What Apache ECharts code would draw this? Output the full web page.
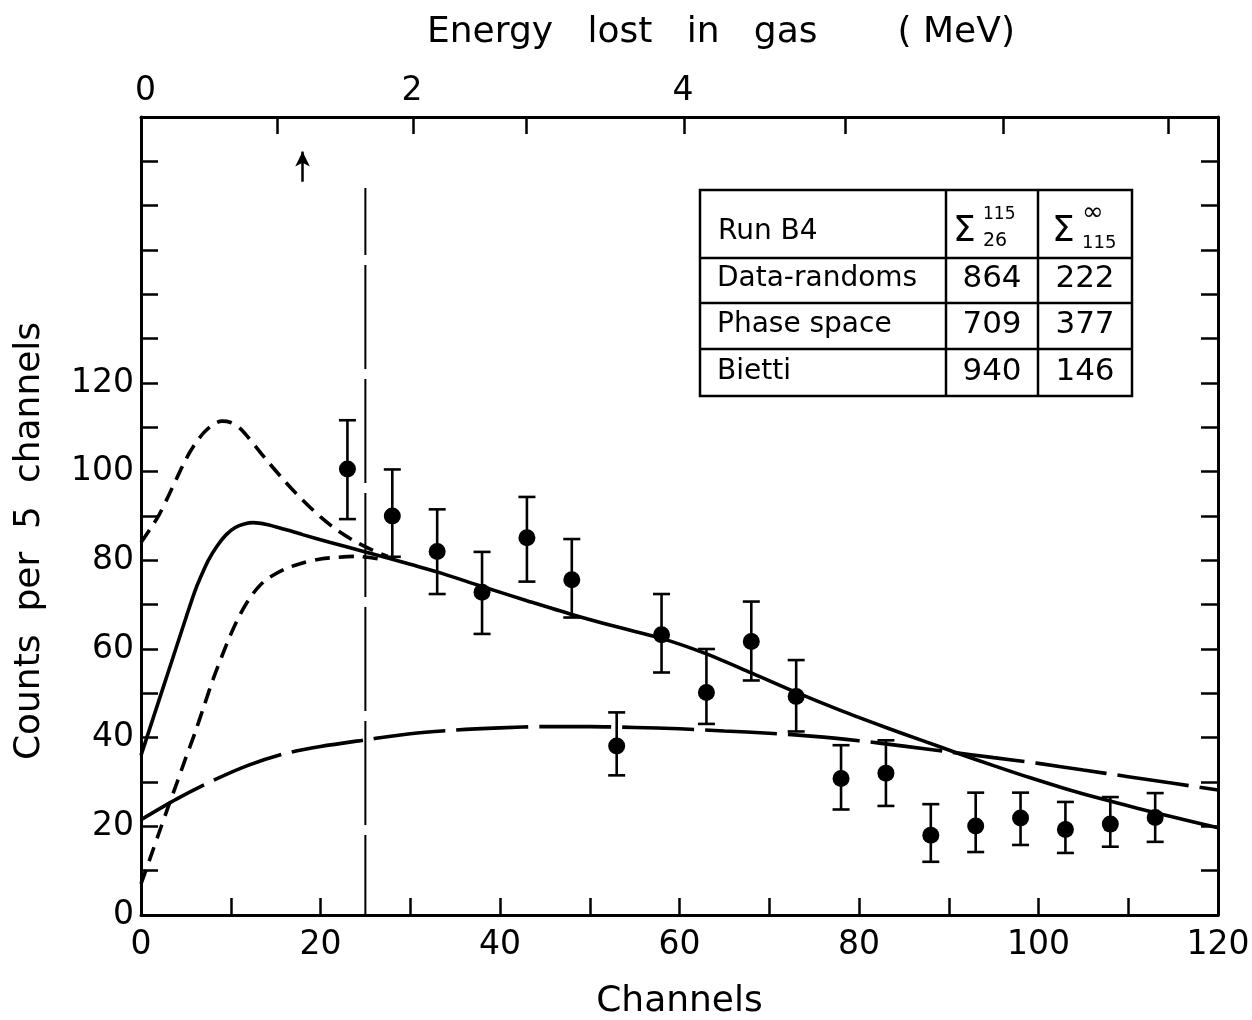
<!DOCTYPE html>
<html>
<head>
<meta charset="utf-8">
<script src="https://cdn.jsdelivr.net/npm/echarts@6/dist/echarts.min.js"></script>
<style>
  html, body { margin: 0; padding: 0; background: #fff; }
  #chart { width: 1252px; height: 1020px; }
</style>
</head>
<body>
<div id="chart"></div>
<script>
// ---------------- data ----------------
const channels = [23, 28, 33, 38, 43, 48, 53, 58, 63, 68, 73, 78, 83, 88, 93, 98, 103, 108, 113];
const counts   = [100.6, 90.0, 82.0, 72.8, 85.1, 75.6, 38.1, 63.2, 50.2, 61.7, 49.3, 30.8, 32.0, 18.0, 20.1, 21.9, 19.3, 20.5, 22.0];
const errLow   = [89.3, 80.8, 72.4, 63.4, 75.2, 67.1, 31.5, 54.7, 43.1, 52.9, 41.4, 23.8, 24.6, 12.0, 14.2, 15.8, 14.0, 15.4, 16.5];
const errHigh  = [111.6, 100.5, 91.5, 81.9, 94.3, 84.8, 45.7, 72.4, 60.0, 70.7, 57.5, 38.3, 39.4, 25.0, 27.6, 27.6, 25.5, 26.6, 27.5];

// solid curve (Bietti)
const solidX = [0, 1, 2, 3, 4, 5, 6, 6.6, 7.5, 8.5, 9.5, 10.5, 11.5, 12.5, 14, 16, 18, 21, 25, 30, 33, 38, 43, 48, 53, 58, 63, 68, 73, 78, 83, 87, 91, 95, 99, 103, 107, 111, 115, 120];
const solidY = [36, 42.2, 48.4, 54.6, 60.8, 67, 73, 76, 80, 83.3, 85.8, 87.4, 88.2, 88.5, 88.1, 87.0, 85.8, 84.1, 81.9, 79.1, 77.4, 74.1, 70.9, 67.8, 65.0, 62.4, 58.9, 54.6, 50.2, 46.1, 42.3, 39.4, 36.5, 33.7, 31.0, 28.5, 26.2, 24.1, 22.1, 19.7];

// upper short-dashed curve
const upperDashX = [0, 1, 2, 3, 4, 5, 6, 7, 8, 9, 10, 11, 12, 13, 14, 16, 18, 20, 22, 24, 26, 27.5];
const upperDashY = [84, 87, 90.2, 94.3, 98.6, 102.8, 106.2, 108.8, 110.6, 111.4, 111.1, 109.8, 107.6, 105.1, 102.6, 97.9, 93.6, 89.8, 86.6, 84.1, 82.1, 80.9];

// lower short-dashed curve
const lowerDashX = [0, 1, 2, 3, 4, 5, 6, 7, 8, 9, 10, 11, 12, 13, 14, 16, 18, 20, 22, 24, 26.5];
const lowerDashY = [7, 12.7, 18.5, 24.2, 29.8, 35.5, 41, 47, 53, 58.3, 63.3, 67.6, 71.1, 73.8, 75.7, 78, 79.4, 80.3, 80.7, 80.9, 80.3];

// long-dashed curve (phase space)
const longDashX = [0, 4, 8, 12, 16, 20, 25, 30, 35, 40, 45, 50, 55, 60, 65, 70, 75, 80, 85, 90, 95, 100, 105, 110, 115, 120];
const longDashY = [21.5, 26.2, 30.3, 33.8, 36.4, 38, 39.5, 40.9, 41.7, 42.2, 42.5, 42.5, 42.3, 42, 41.5, 41, 40.3, 39.3, 38.1, 36.8, 35.5, 34.2, 32.7, 31.2, 29.7, 28.2];

// vertical cut line and arrow
const cutChannel = 25;
const cutTop = 164;
const arrowChannel = 18;
const arrowFrom = 165.4;
const arrowTo = 172.2;

// axes
const xLabelStep = 20;
const yLabelMax = 120;
const topTickChannels = [15.2, 30.3, 42.9, 60.5, 78.5, 96.1, 114.5];
const topLabelChannels = [0.5, 30.2, 60.4];
const topLabelTexts = ['0', '2', '4'];

// table
const tableHeader = 'Run B4';
const tableRows = ['Data-randoms', 'Phase space', 'Bietti'];
const sumLowRange = [864, 709, 940];
const sumHighRange = [222, 377, 146];

// ---------------- chart ----------------
const FONT = '"DejaVu Sans", "Liberation Sans", sans-serif';
const BLACK = '#000';
const pair = (xs, ys) => xs.map((x, i) => [x, ys[i]]);

const chart = echarts.init(document.getElementById('chart'), null, { renderer: 'canvas' });

const axisLineStyle = { show: true, onZero: false, lineStyle: { color: BLACK, width: 3 } };
const tickStyle = { show: true, inside: true, length: 17, lineStyle: { color: BLACK, width: 2.5 } };

function errorBarItem(params, api) {
  const x = api.value(0), lo = api.value(1), hi = api.value(2);
  const pLo = api.coord([x, lo]);
  const pHi = api.coord([x, hi]);
  const hw = 8.5;
  const st = { stroke: BLACK, lineWidth: 2.6 };
  return {
    type: 'group',
    children: [
      { type: 'line', shape: { x1: pLo[0], y1: pLo[1], x2: pHi[0], y2: pHi[1] }, style: st },
      { type: 'line', shape: { x1: pLo[0] - hw, y1: pLo[1], x2: pLo[0] + hw, y2: pLo[1] }, style: st },
      { type: 'line', shape: { x1: pHi[0] - hw, y1: pHi[1], x2: pHi[0] + hw, y2: pHi[1] }, style: st }
    ]
  };
}

// table geometry (annotation)
const T = { left: 700, top: 190, right: 1132, bottom: 396, col1: 946, col2: 1038, rows: [258, 303, 349] };
const tStroke = { stroke: BLACK, lineWidth: 2.5, fill: null };
const rowCentersY = [279, 325, 372];
const txt = (x, y, text, size, align) => ({
  type: 'text', x: x, y: y,
  style: { text: text, fontSize: size, fontFamily: FONT, fill: BLACK, textAlign: align || 'left', textVerticalAlign: 'middle' }
});
const tableChildren = [
  { type: 'rect', shape: { x: T.left, y: T.top, width: T.right - T.left, height: T.bottom - T.top }, style: tStroke },
  { type: 'line', shape: { x1: T.col1, y1: T.top, x2: T.col1, y2: T.bottom }, style: tStroke },
  { type: 'line', shape: { x1: T.col2, y1: T.top, x2: T.col2, y2: T.bottom }, style: tStroke }
];
T.rows.forEach(y => tableChildren.push({ type: 'line', shape: { x1: T.left, y1: y, x2: T.right, y2: y }, style: tStroke }));
tableChildren.push(txt(718, 232, tableHeader, 28));
// Σ headers
tableChildren.push(txt(953, 232, 'Σ', 36));
tableChildren.push(txt(983, 215, '115', 17));
tableChildren.push(txt(983, 241, '26', 19));
tableChildren.push(txt(1052, 232, 'Σ', 36));
tableChildren.push(txt(1082, 213, '∞', 26));
tableChildren.push(txt(1082, 243, '115', 18));
tableRows.forEach((name, i) => {
  tableChildren.push(txt(717, rowCentersY[i], name, 28));
  tableChildren.push(txt((T.col1 + T.col2) / 2, rowCentersY[i], String(sumLowRange[i]), 31, 'center'));
  tableChildren.push(txt((T.col2 + T.right) / 2, rowCentersY[i], String(sumHighRange[i]), 31, 'center'));
});

const option = {
  backgroundColor: '#fff',
  animation: false,
  grid: { left: 141, right: 34, top: 117, bottom: 105, containLabel: false, outerBoundsMode: 'none' },
  xAxis: [
    {
      type: 'value', min: 0, max: 120, interval: 10, position: 'bottom',
      axisLine: axisLineStyle, axisTick: tickStyle, splitLine: { show: false },
      axisLabel: {
        fontSize: 33, fontFamily: FONT, color: BLACK, margin: 14,
        formatter: v => (v % xLabelStep === 0 ? String(v) : '')
      },
      name: 'Channels', nameLocation: 'middle', nameGap: 69,
      nameTextStyle: { fontSize: 36, fontFamily: FONT, color: BLACK }
    },
    {
      type: 'value', min: 0, max: 120, position: 'top',
      axisLine: axisLineStyle,
      axisTick: Object.assign({}, tickStyle, { customValues: topTickChannels }),
      splitLine: { show: false },
      axisLabel: {
        fontSize: 33, fontFamily: FONT, color: BLACK, margin: 9,
        customValues: topLabelChannels,
        formatter: v => {
          const i = topLabelChannels.findIndex(c => Math.abs(c - v) < 1e-6);
          return i >= 0 ? topLabelTexts[i] : '';
        }
      }
    }
  ],
  yAxis: [
    {
      type: 'value', min: 0, max: 180, interval: 10, position: 'left',
      axisLine: axisLineStyle, axisTick: tickStyle, splitLine: { show: false },
      axisLabel: {
        fontSize: 33, fontFamily: FONT, color: BLACK, margin: 7,
        formatter: v => (v <= yLabelMax && v % 20 === 0 ? String(v) : '')
      }
    },
    {
      type: 'value', min: 0, max: 180, interval: 10, position: 'right',
      axisLine: axisLineStyle, axisTick: tickStyle, splitLine: { show: false },
      axisLabel: { show: false }
    }
  ],
  graphic: [
    { type: 'text', x: 721, y: 33, style: { text: 'Energy   lost   in   gas       ( MeV)', fontSize: 36, fontFamily: FONT, fill: BLACK, textAlign: 'center', textVerticalAlign: 'middle' } },
    { type: 'text', x: 30, y: 541, rotation: Math.PI / 2, style: { text: 'Counts  per  5  channels', fontSize: 36, fontFamily: FONT, fill: BLACK, textAlign: 'center', textVerticalAlign: 'middle' } },
    { type: 'group', children: tableChildren }
  ],
  series: [
    {
      name: 'Phase space', type: 'line', data: pair(longDashX, longDashY), showSymbol: false, smooth: 0.3,
      lineStyle: { color: BLACK, width: 3.6, type: [72, 11] }, z: 2
    },
    {
      name: 'Upper model', type: 'line', data: pair(upperDashX, upperDashY), showSymbol: false, smooth: 0.3,
      lineStyle: { color: BLACK, width: 3.6, type: [15, 9] }, z: 2
    },
    {
      name: 'Lower model', type: 'line', data: pair(lowerDashX, lowerDashY), showSymbol: false, smooth: 0.3,
      lineStyle: { color: BLACK, width: 3.6, type: [15, 9] }, z: 2
    },
    {
      name: 'Bietti', type: 'line', data: pair(solidX, solidY), showSymbol: false, smooth: 0.3,
      lineStyle: { color: BLACK, width: 3.6 }, z: 3
    },
    {
      name: 'Cut', type: 'line', data: [[cutChannel, cutTop], [cutChannel, 0]], showSymbol: false,
      lineStyle: { color: BLACK, width: 2, type: [104, 10], dashOffset: 37 }, z: 2,
      markLine: {
        silent: true, symbol: ['none', 'arrow'], symbolSize: [11, 15],
        label: { show: false },
        lineStyle: { color: BLACK, width: 2.5, type: 'solid' },
        data: [[{ coord: [arrowChannel, arrowFrom] }, { coord: [arrowChannel, arrowTo] }]]
      }
    },
    {
      name: 'Errors', type: 'custom', renderItem: errorBarItem,
      data: channels.map((c, i) => [c, errLow[i], errHigh[i]]),
      encode: { x: 0, y: [1, 2] }, z: 4
    },
    {
      name: 'Data-randoms', type: 'scatter', data: pair(channels, counts),
      symbol: 'circle', symbolSize: 17, itemStyle: { color: BLACK, opacity: 1 }, z: 5
    }
  ]
};
chart.setOption(option);
</script>
</body>
</html>
